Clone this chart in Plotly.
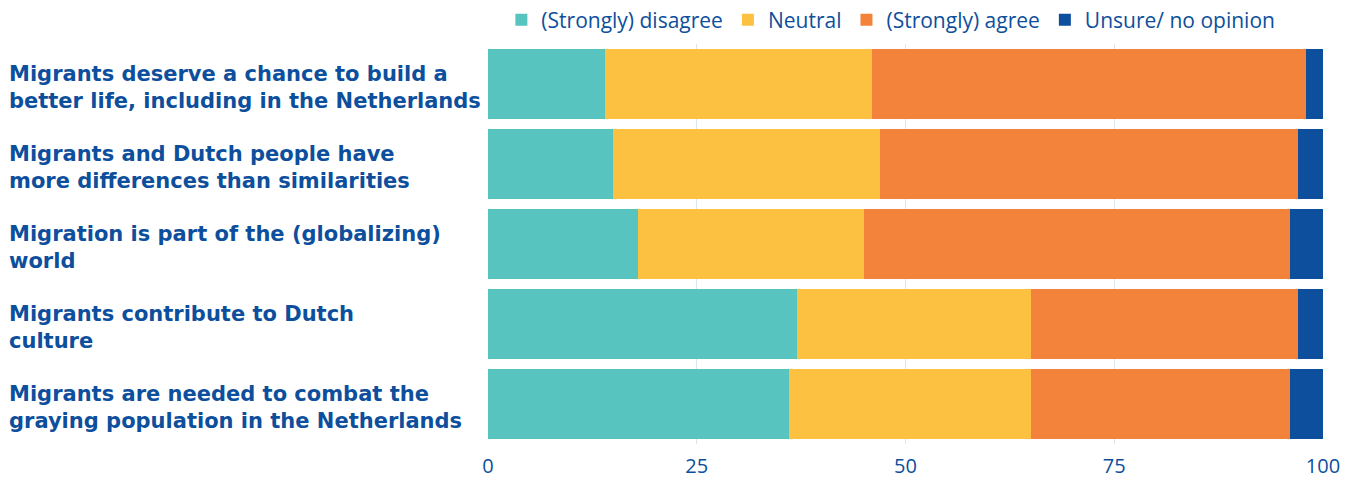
import plotly.graph_objects as go

categories = [
    "Migrants deserve a chance to build a<br>better life, including in the Netherlands",
    "Migrants and Dutch people have<br>more differences than similarities",
    "Migration is part of the (globalizing)<br>world",
    "Migrants contribute to Dutch<br>culture",
    "Migrants are needed to combat the<br>graying population in the Netherlands",
]
disagree = [14, 15, 18, 37, 36]
neutral = [32, 32, 27, 28, 29]
agree = [52, 50, 51, 32, 31]
unsure = [2, 3, 4, 3, 4]

series = [
    ("(Strongly) disagree", disagree, "#57c4c0"),
    ("Neutral", neutral, "#fcc140"),
    ("(Strongly) agree", agree, "#f3833b"),
    ("Unsure/ no opinion", unsure, "#0d4f9c"),
]

BLUE = "#0d4f9c"
fig = go.Figure()
for name, vals, col in series:
    fig.add_trace(go.Bar(y=categories, x=vals, name=name, orientation="h",
                         marker=dict(color=col, line=dict(width=0))))

for c in categories:
    fig.add_annotation(x=-0.576, xref="paper", y=c, yref="y", text=c,
                       showarrow=False, xanchor="left", align="left", yshift=-3,
                       font=dict(family="DejaVu Sans", size=21, color=BLUE, weight="bold"))

fig.update_layout(
    barmode="stack",
    bargap=0.125,
    width=1357, height=480,
    margin=dict(l=488, r=34, t=44, b=36, autoexpand=False),
    paper_bgcolor="white", plot_bgcolor="white",
    font=dict(family="Open Sans", color=BLUE, size=20),
    legend=dict(orientation="h", x=0.016, xanchor="left", y=1.06, yanchor="middle",
                font=dict(family="Open Sans", size=21, color=BLUE), traceorder="normal",
                itemwidth=30),
    xaxis=dict(range=[0, 100], tickvals=[0, 25, 50, 75, 100], showgrid=True,
               gridcolor="#dde6ef", gridwidth=1, zeroline=False, showline=False,
               tickfont=dict(family="Open Sans", size=20, color=BLUE), ticklen=0,
               ticklabelstandoff=8),
    yaxis=dict(autorange="reversed", showticklabels=False, showgrid=False,
               zeroline=False, showline=False),
)
fig.write_html("out.html")
